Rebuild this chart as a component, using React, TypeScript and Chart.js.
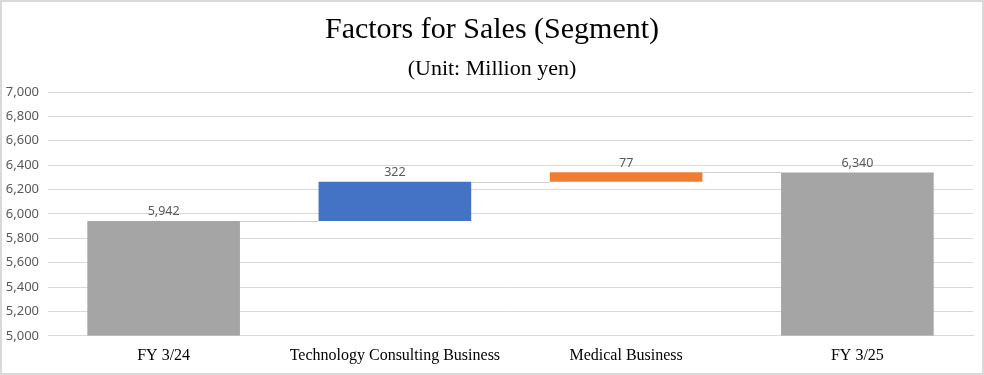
import React, { useEffect, useRef } from "react";
import { Chart, registerables } from "chart.js";

Chart.register(...registerables);

const categories = ["FY 3/24", "Technology Consulting Business", "Medical Business", "FY 3/25"];
const amounts = [5942, 322, 77, 6340];
const kinds = ["total", "change", "change", "total"];
const barColors = ["#a5a5a5", "#4472c4", "#ed7d31", "#a5a5a5"];
const axisMin = 5000;
const axisMax = 7000;
const axisStep = 200;
const titleText = "Factors for Sales (Segment)";
const subtitleText = "(Unit: Million yen)";

function buildRanges(): number[][] {
  const out: number[][] = [];
  let running = 0;
  for (let i = 0; i < amounts.length; i++) {
    if (kinds[i] === "total") {
      running = amounts[i];
      out.push([axisMin, amounts[i]]);
    } else {
      const start = running;
      running = running + amounts[i];
      out.push([start, running]);
    }
  }
  return out;
}

const fmt = (v: number) => v.toLocaleString("en-US");

export default function App() {
  const ref = useRef<HTMLCanvasElement | null>(null);

  useEffect(() => {
    document.body.style.margin = "0";
    const canvas = ref.current;
    if (!canvas) return;
    const ranges = buildRanges();

    const decor = {
      id: "decor",
      beforeDraw(chart: any) {
        const { ctx, width, height } = chart;
        ctx.save();
        ctx.fillStyle = "#ffffff";
        ctx.fillRect(0, 0, width, height);
        ctx.strokeStyle = "#d9d9d9";
        ctx.lineWidth = 2;
        ctx.strokeRect(1, 1, width - 2, height - 2);
        ctx.restore();
      },
      afterDatasetsDraw(chart: any) {
        const { ctx } = chart;
        const meta = chart.getDatasetMeta(0);
        const y = chart.scales.y;
        ctx.save();
        ctx.strokeStyle = "#d0d0d0";
        ctx.lineWidth = 1;
        for (let i = 0; i < ranges.length - 1; i++) {
          const a = meta.data[i];
          const b = meta.data[i + 1];
          const yy = Math.round(y.getPixelForValue(ranges[i][1])) + 0.5;
          ctx.beginPath();
          ctx.moveTo(a.x + a.width / 2, yy);
          ctx.lineTo(b.x - b.width / 2, yy);
          ctx.stroke();
        }
        ctx.fillStyle = "#595959";
        ctx.font = "12.5px 'Noto Sans'";
        ctx.textAlign = "center";
        ctx.textBaseline = "bottom";
        for (let i = 0; i < ranges.length; i++) {
          const el = meta.data[i];
          const top = y.getPixelForValue(Math.max(ranges[i][0], ranges[i][1]));
          ctx.fillText(fmt(amounts[i]), el.x, top - 3);
        }
        ctx.restore();
      },
      afterDraw(chart: any) {
        const { ctx, width } = chart;
        ctx.save();
        ctx.fillStyle = "#000000";
        ctx.textAlign = "center";
        ctx.textBaseline = "alphabetic";
        ctx.font = "30px 'Liberation Serif'";
        ctx.fillText(titleText, width / 2, 38);
        ctx.font = "22px 'Liberation Serif'";
        ctx.fillText(subtitleText, width / 2, 75);
        ctx.restore();
      },
    };

    const chart = new Chart(canvas, {
      type: "bar",
      data: {
        labels: categories,
        datasets: [
          {
            data: ranges as any,
            backgroundColor: barColors,
            borderWidth: 0,
            categoryPercentage: 1,
            barPercentage: 0.66,
          },
        ],
      },
      options: {
        animation: false,
        responsive: false,
        maintainAspectRatio: false,
        layout: { padding: { top: 92, right: 11, bottom: 0, left: 0 } },
        plugins: {
          legend: { display: false },
          title: { display: false },
          tooltip: { enabled: false },
        },
        scales: {
          x: {
            grid: { display: false, drawTicks: false },
            border: { display: true, color: "#d9d9d9" },
            ticks: {
              padding: 10,
              color: "#000000",
              font: { family: "'Liberation Serif'", size: 16 },
              maxRotation: 0,
              autoSkip: false,
            },
          },
          y: {
            min: axisMin,
            max: axisMax,
            afterFit(scale: any) {
              scale.width = 48;
            },
            grid: { color: "#d9d9d9", drawTicks: false },
            border: { display: false },
            ticks: {
              stepSize: axisStep,
              padding: 9,
              color: "#595959",
              font: { family: "'Noto Sans'", size: 13 },
              callback: (v: any) => fmt(Number(v)),
            },
          },
        },
      },
      plugins: [decor],
    });
    return () => chart.destroy();
  }, []);

  return (
    <div style={{ width: 984, height: 375 }}>
      <canvas ref={ref} width={984} height={375} style={{ display: "block" }} />
    </div>
  );
}
